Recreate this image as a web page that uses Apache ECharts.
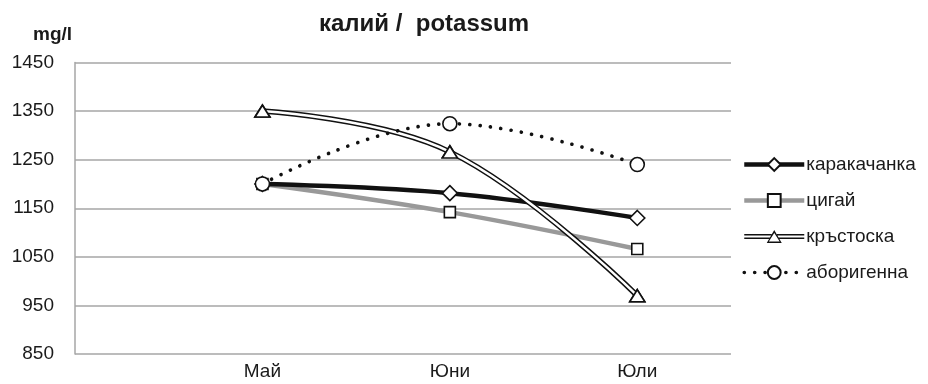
<!DOCTYPE html>
<html>
<head>
<meta charset="utf-8">
<script src="https://cdn.jsdelivr.net/npm/echarts@6/dist/echarts.min.js"></script>
<style>
  html, body { margin: 0; padding: 0; background: #fff; }
  #chart { width: 928px; height: 384px; }
</style>
</head>
<body>
<div id="chart"></div>
<script>
// Months of sampling (x positions are the month indices 0..2)
const months = ['Май', 'Юни', 'Юли'];

// Potassium content, mg/l, per breed
const karakachanka = [1200, 1181, 1130];
const tsigai = [1200, 1142, 1066];
const krastoska = [1350, 1266, 970];
const aborigenna = [1200, 1324, 1240];

const yTicks = { min: 850, max: 1450, step: 100 };

const pts = arr => arr.map((v, i) => [i, v]);
const FONT = '"Liberation Sans", Arial, sans-serif';
const TEXT = '#1a1a1a';
const markerStyle = { color: '#fff', borderColor: '#111', borderWidth: 1.6 };
const SMOOTH = 0.4;

// Legend glyph for the hollow double line with an open triangle in the middle
// (outer triangle clockwise, inner one counter-clockwise so it stays hollow).
const doubleLineIcon = 'path://' + [
  'M0 4 L27.3 4 L27.3 5.5 L0 5.5 Z',
  'M0 7.5 L26 7.5 L26 9 L0 9 Z',
  'M32.7 4 L60 4 L60 5.5 L32.7 5.5 Z',
  'M34 7.5 L60 7.5 L60 9 L34 9 Z',
  'M30 0 L37.5 13 L22.5 13 Z',
  'M30 2.9 L24.6 11.6 L35.4 11.6 Z'
].join(' ');

const chart = echarts.init(document.getElementById('chart'), null, { renderer: 'canvas' });

chart.setOption({
  animation: false,
  backgroundColor: '#fff',
  title: [
    {
      text: 'калий /  potassum',
      left: 419, top: 7, textAlign: 'center',
      textStyle: { fontFamily: FONT, fontSize: 24, fontWeight: 'bold', color: TEXT }
    },
    {
      text: 'mg/l',
      left: 28, top: 20,
      textStyle: { fontFamily: FONT, fontSize: 19, fontWeight: 'bold', color: TEXT }
    }
  ],
  legend: {
    orient: 'vertical',
    left: 737, top: 150,
    itemWidth: 60, itemHeight: 16, itemGap: 17,
    symbolKeepAspect: true,
    textStyle: { fontFamily: FONT, fontSize: 19, color: TEXT, padding: [0, 0, 0, -3] },
    data: [
      { name: 'каракачанка', lineStyle: { width: 4.5 } },
      { name: 'цигай', lineStyle: { width: 4.5 } },
      {
        name: 'кръстоска', icon: doubleLineIcon,
        itemStyle: { color: '#111', borderWidth: 0 }
      },
      { name: 'аборигенна', lineStyle: { width: 3.6 } }
    ]
  },
  grid: { left: 75, right: 197, top: 62.5, bottom: 30, containLabel: false },
  xAxis: {
    type: 'value',
    min: -1, max: 2.5, interval: 1,
    axisLine: { show: false },
    axisTick: { show: false },
    splitLine: { show: false },
    axisLabel: {
      fontFamily: FONT, fontSize: 19, color: TEXT, margin: 8,
      showMaxLabel: false,
      formatter: v => (months[v] !== undefined ? months[v] : '')
    }
  },
  yAxis: {
    type: 'value',
    min: yTicks.min, max: yTicks.max, interval: yTicks.step,
    axisLine: { show: true, onZero: false, lineStyle: { color: '#a6a6a6', width: 1.5 } },
    axisTick: { show: false },
    splitLine: { show: true, lineStyle: { color: '#a6a6a6', width: 1.5 } },
    axisLabel: {
      fontFamily: FONT, fontSize: 19, color: TEXT, margin: 21,
      formatter: v => String(v)
    }
  },
  series: [
    {
      name: 'цигай', type: 'line', smooth: SMOOTH, z: 2,
      data: pts(tsigai),
      symbol: 'rect', symbolSize: 11,
      lineStyle: { color: '#999', width: 4.5 },
      itemStyle: markerStyle,
      color: '#999'
    },
    {
      name: 'каракачанка', type: 'line', smooth: SMOOTH, z: 3,
      data: pts(karakachanka),
      symbol: 'diamond', symbolSize: [15, 15],
      lineStyle: { color: '#111', width: 4.5 },
      itemStyle: markerStyle
    },
    {
      // outer dark stroke of the double line
      name: 'кръстоска', type: 'line', smooth: SMOOTH, z: 4,
      data: pts(krastoska),
      symbol: 'triangle', symbolSize: [15, 12],
      lineStyle: { color: '#111', width: 5.5 },
      itemStyle: markerStyle
    },
    {
      // white core of the double line, markers redrawn on top
      name: 'кръстоска', type: 'line', smooth: SMOOTH, z: 5,
      data: pts(krastoska),
      symbol: 'triangle', symbolSize: [15, 12],
      lineStyle: { color: '#fff', width: 2.5 },
      itemStyle: markerStyle
    },
    {
      name: 'аборигенна', type: 'line', smooth: SMOOTH, z: 6,
      data: pts(aborigenna),
      symbol: 'circle', symbolSize: 14,
      lineStyle: { color: '#111', width: 3.6, type: [0.1, 10.3], cap: 'round' },
      itemStyle: markerStyle
    }
  ]
});
</script>
</body>
</html>
